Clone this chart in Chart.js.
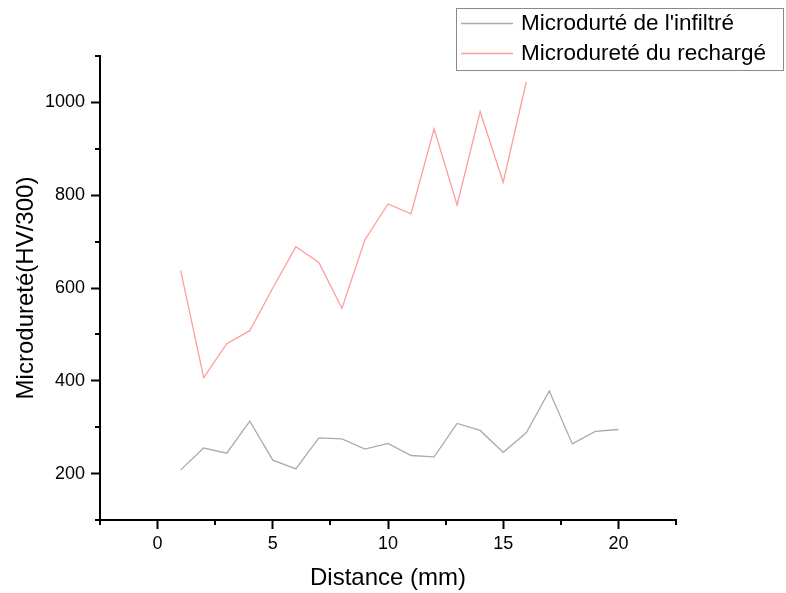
<!DOCTYPE html>
<html>
<head>
<meta charset="utf-8">
<script src="https://cdn.jsdelivr.net/npm/chart.js@4.4.1/dist/chart.umd.min.js"></script>
<style>
html,body{margin:0;padding:0;background:#fff;}
#wrap{width:786px;height:593px;}
</style>
</head>
<body>
<div id="wrap"><canvas id="c" width="786" height="593"></canvas></div>
<script>
// ---- data ----
const distanceInfiltre = [1,2,3,4,5,6,7,8,9,10,11,12,13,14,15,16,17,18,19,20];
const microInfiltre   = [208,255,244,313,229,210,277,275,253,265,239,236,308,293,246,288,378,264,291,295];
const distanceRecharge = [1,2,3,4,5,6,7,8,9,10,11,12,13,14,15,16];
const microRecharge    = [638,407,480,508,600,689,655,556,704,781,760,943,779,980,828,1044];
const seriesLabels = ["Microdurté de l'infiltré", "Microdureté du rechargé"];
const xMajorTicks = [0,5,10,15,20];
const xMinorTicks = [-2.5,2.5,7.5,12.5,17.5,22.5];
const yMajorTicks = [200,400,600,800,1000];
const yMinorTicks = [100,300,500,700,900,1100];
const xTitle = "Distance (mm)";
const yTitle = "Microdureté(HV/300)";

const FONT = "'Liberation Sans', Arial, Helvetica, sans-serif";
const colors = ['#ababab', '#ff9d9d'];

const toPts = (xs, ys) => xs.map((x, i) => ({x: x, y: ys[i]}));

const minorTickPlugin = {
  id: 'minorTicks',
  afterDatasetsDraw(chart) {
    const ctx = chart.ctx;
    const xs = chart.scales.x, ys = chart.scales.y;
    ctx.save();
    ctx.strokeStyle = '#000';
    ctx.lineWidth = 2;
    ctx.beginPath();
    xMinorTicks.forEach(v => {
      const px = Math.round(xs.getPixelForValue(v));
      ctx.moveTo(px, xs.top);
      ctx.lineTo(px, xs.top + 5);
    });
    yMinorTicks.forEach(v => {
      const py = Math.round(ys.getPixelForValue(v));
      ctx.moveTo(ys.right, py);
      ctx.lineTo(ys.right - 5, py);
    });
    ctx.stroke();
    ctx.restore();
  }
};

const legendPlugin = {
  id: 'boxLegend',
  afterDraw(chart) {
    const ctx = chart.ctx;
    ctx.save();
    const bx = 456.5, by = 8.5, bw = 327, bh = 62;
    ctx.fillStyle = '#fff';
    ctx.fillRect(bx, by, bw, bh);
    ctx.strokeStyle = '#8a8a8a';
    ctx.lineWidth = 1;
    ctx.strokeRect(bx, by, bw, bh);
    ctx.font = '22.5px ' + FONT;
    ctx.textBaseline = 'middle';
    ctx.textAlign = 'left';
    chart.data.datasets.forEach((ds, i) => {
      const y = 23 + i * 30;
      ctx.strokeStyle = ds.borderColor;
      ctx.lineWidth = 1.3;
      ctx.beginPath();
      ctx.moveTo(461, y + 0.5);
      ctx.lineTo(513, y + 0.5);
      ctx.stroke();
      ctx.fillStyle = '#000';
      ctx.fillText(ds.label, 521, y + 1);
    });
    ctx.restore();
  }
};

new Chart(document.getElementById('c'), {
  type: 'line',
  data: {
    datasets: [
      {label: seriesLabels[0], data: toPts(distanceInfiltre, microInfiltre), borderColor: colors[0], borderWidth: 1.3, pointRadius: 0, tension: 0, fill: false},
      {label: seriesLabels[1], data: toPts(distanceRecharge, microRecharge), borderColor: colors[1], borderWidth: 1.3, pointRadius: 0, tension: 0, fill: false}
    ]
  },
  options: {
    responsive: false,
    animation: false,
    devicePixelRatio: 1,
    layout: {padding: {left: 0, top: 56, right: 110, bottom: 0}},
    plugins: {legend: {display: false}, tooltip: {enabled: false}},
    scales: {
      x: {
        type: 'linear', min: -2.5, max: 22.5,
        afterBuildTicks: s => { s.ticks = xMajorTicks.map(v => ({value: v})); },
        afterFit: s => { s.height = 73; },
        grid: {drawOnChartArea: false, drawTicks: true, tickLength: 9, tickWidth: 2, tickColor: '#000'},
        border: {display: true, color: '#000', width: 2},
        ticks: {color: '#000', font: {family: FONT, size: 18}, padding: 4, maxRotation: 0, callback: v => String(v)},
        title: {display: true, text: xTitle, color: '#000', font: {family: FONT, size: 24}, padding: {top: 0, bottom: 0}}
      },
      y: {
        type: 'linear', min: 100, max: 1100,
        afterBuildTicks: s => { s.ticks = yMajorTicks.map(v => ({value: v})); },
        afterFit: s => { s.width = 100; },
        grid: {drawOnChartArea: false, drawTicks: true, tickLength: 9, tickWidth: 2, tickColor: '#000'},
        border: {display: true, color: '#000', width: 2},
        ticks: {color: '#000', font: {family: FONT, size: 18}, padding: 6, callback: v => String(v)},
        title: {display: true, text: yTitle, color: '#000', font: {family: FONT, size: 24}, padding: {top: 12, bottom: 0}}
      }
    }
  },
  plugins: [minorTickPlugin, legendPlugin]
});
</script>
</body>
</html>
